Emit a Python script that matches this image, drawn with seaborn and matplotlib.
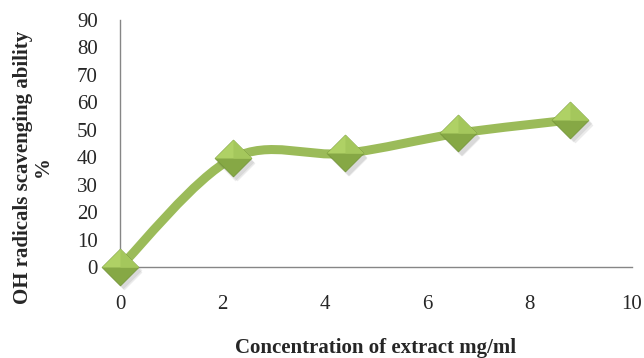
import numpy as np
import pandas as pd
import matplotlib
matplotlib.use("Agg")
import matplotlib.pyplot as plt
import matplotlib.transforms as mtransforms
from matplotlib.path import Path
from matplotlib.patches import PathPatch
import seaborn as sns

# Data
concentration = [0, 2.2, 4.4, 6.6, 8.8]
scavenging = [0, 39.6, 41.4, 48.7, 53.6]
x_ticks = [0, 2, 4, 6, 8, 10]
y_ticks = [0, 10, 20, 30, 40, 50, 60, 70, 80, 90]

df = pd.DataFrame({"conc": concentration, "scav": scavenging})

sns.set_style("white")
plt.rcParams["font.family"] = ["Liberation Serif", "DejaVu Serif"]

fig = plt.figure(figsize=(6.44, 3.58), dpi=100)
ax = fig.add_axes([0.1863, 0.2542, 0.981 - 0.1863, 0.944 - 0.2542])

LINE = "#9BBB59"

# smooth (Catmull-Rom style) Bezier through data, computed from the data arrays
pts = np.column_stack([df["conc"].to_numpy(), df["scav"].to_numpy()])
n = len(pts)
verts = [tuple(pts[0])]
codes = [Path.MOVETO]
for i in range(n - 1):
    p0 = pts[i - 1] if i > 0 else pts[i]
    p1 = pts[i]
    p2 = pts[i + 1]
    p3 = pts[i + 2] if i + 2 < n else pts[i + 1]
    c1 = p1 + (p2 - p0) / 6.0
    c2 = p2 - (p3 - p1) / 6.0
    verts += [tuple(c1), tuple(c2), tuple(p2)]
    codes += [Path.CURVE4] * 3
patch = PathPatch(Path(verts, codes), facecolor="none", edgecolor=LINE,
                  lw=6.5, capstyle="round", joinstyle="round", zorder=2)
ax.add_patch(patch)

diamond = Path([(-1, 0), (0, 1), (1, 0), (0, -1), (-1, 0)],
               [Path.MOVETO, Path.LINETO, Path.LINETO, Path.LINETO, Path.CLOSEPOLY])
upper = Path([(-1, 0), (0, 1), (1, 0), (-1, 0)],
             [Path.MOVETO, Path.LINETO, Path.LINETO, Path.CLOSEPOLY])
# right-upper face (slightly darker shade of the top)
upper_right = Path([(0, 0), (0, 1), (1, 0), (0, 0)],
                   [Path.MOVETO, Path.LINETO, Path.LINETO, Path.CLOSEPOLY])
size = 700

# soft shadow
for off, a, s in [(2.0, 0.10, size * 1.05), (3.0, 0.10, size * 0.95)]:
    tr = ax.transData + mtransforms.ScaledTranslation(off / 72, -off * 1.2 / 72, fig.dpi_scale_trans)
    sns.scatterplot(data=df, x="conc", y="scav", marker=diamond, s=s, color="#404040",
                    alpha=a, linewidth=0, ax=ax, zorder=3, clip_on=False,
                    transform=tr, legend=False)
# base (darker lower half)
sns.scatterplot(data=df, x="conc", y="scav", marker=diamond, s=size, color="#86A845",
                edgecolor="#76983A", linewidth=0.6, ax=ax, zorder=4, clip_on=False, legend=False)
# lighter upper half
sns.scatterplot(data=df, x="conc", y="scav", marker=upper, s=size, color="#AFD165",
                linewidth=0, ax=ax, zorder=5, clip_on=False, legend=False)
sns.scatterplot(data=df, x="conc", y="scav", marker=upper_right, s=size, color="#A4C75C",
                linewidth=0, ax=ax, zorder=6, clip_on=False, legend=False)

ax.set_xlim(0, 10)
ax.set_ylim(0, 90)
ax.set_xticks(x_ticks)
ax.set_yticks(y_ticks)
ax.set_xticklabels([str(v) for v in x_ticks], fontsize=15)
ax.set_yticklabels([str(v) for v in y_ticks], fontsize=15)
ax.tick_params(axis="x", length=0, pad=20)
ax.tick_params(axis="y", length=0, pad=16)

for s in ["top", "right"]:
    ax.spines[s].set_visible(False)
for s in ["left", "bottom"]:
    ax.spines[s].set_color("#868686")
    ax.spines[s].set_linewidth(1.0)

ax.set_xlabel("Concentration of extract mg/ml", fontsize=15, fontweight="bold", va="center")
ax.xaxis.set_label_coords(0.5, -0.328)
ax.set_ylabel("OH radicals scavenging ability\n%", fontsize=15, fontweight="bold",
              linespacing=1.0, va="center", ha="center")
ax.yaxis.set_label_coords(-0.170, 0.405)

fig.savefig("out.png", dpi=100)
